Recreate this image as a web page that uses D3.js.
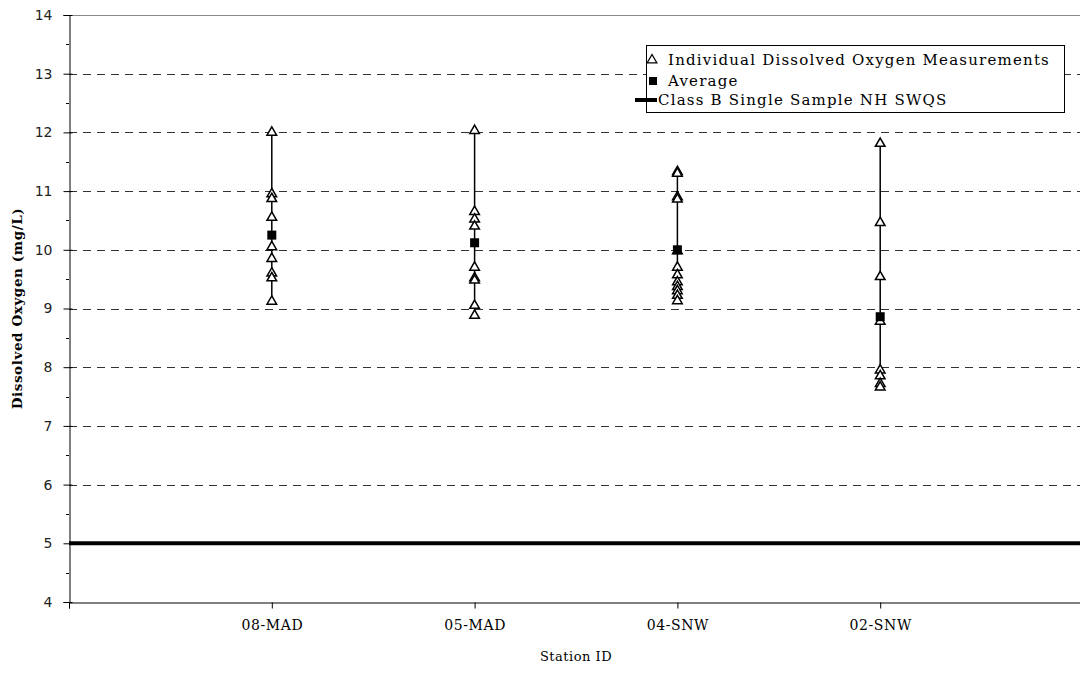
<!DOCTYPE html>
<html><head><meta charset="utf-8">
<script src="https://cdn.jsdelivr.net/npm/d3@7"></script>
<style>
body{margin:0;background:#fff;}
svg{display:block;}
text{font-family:"DejaVu Serif",serif;fill:#000;}
</style></head>
<body><svg id="c" width="1080" height="673"></svg>
<script>
const stations = ["08-MAD","05-MAD","04-SNW","02-SNW"];
const measurements = [
  [12.0, 10.95, 10.87, 10.55, 10.05, 9.85, 9.6, 9.52, 9.12],
  [12.03, 10.65, 10.52, 10.4, 9.7, 9.52, 9.48, 9.05, 8.88],
  [11.33, 11.3, 10.9, 10.86, 9.98, 9.7, 9.57, 9.45, 9.37, 9.3, 9.22, 9.13],
  [11.81, 10.46, 9.54, 8.78, 7.95, 7.85, 7.72, 7.66]
];
const averages = [10.25, 10.12, 10.0, 8.86];
const standard = 5;
const yTicks = [4,5,6,7,8,9,10,11,12,13,14];
const yMinor = [4.5,5.5,6.5,7.5,8.5,9.5,10.5,11.5,12.5,13.5];
const legendLabels = ["Individual Dissolved Oxygen Measurements","Average","Class B Single Sample NH SWQS"];

const svg = d3.select("#c");
const L = 69, R = 1083, T = 15, B = 602;
const x = d3.scaleLinear().domain([0, stations.length + 1]).range([L, R]);
const y = d3.scaleLinear().domain([4, 14]).range([B, T]);

// gridlines
svg.append("g").selectAll("line").data(yTicks.filter(d => d > 4 && d < 14)).join("line")
  .attr("x1", L).attr("x2", 1080).attr("y1", d => Math.round(y(d)) + 0.5).attr("y2", d => Math.round(y(d)) + 0.5)
  .attr("stroke", "#333").attr("stroke-width", 1).attr("stroke-dasharray", "8,6");
// top border
svg.append("line").attr("x1", L).attr("x2", 1080).attr("y1", Math.round(y(14)) + 0.5).attr("y2", Math.round(y(14)) + 0.5)
  .attr("stroke", "#888").attr("stroke-width", 1);

// y axis
const yAxis = d3.axisLeft(y).tickValues(yTicks).tickSize(6).tickPadding(11).tickFormat(d3.format("d"));
const gy = svg.append("g").attr("transform", `translate(${L + 0.5},0)`).call(yAxis);
gy.select(".domain").attr("stroke", "#000");
gy.selectAll(".tick line").attr("x2", -6).attr("x1", 3);
gy.selectAll(".tick text").style("font-family", "DejaVu Sans").style("font-size", "14px").style("fill", "#222");
svg.append("g").selectAll("line").data(yMinor).join("line")
  .attr("x1", L - 3).attr("x2", L).attr("y1", d => Math.round(y(d)) + 0.5).attr("y2", d => Math.round(y(d)) + 0.5)
  .attr("stroke", "#000");

// x axis
const xAxis = d3.axisBottom(x).tickValues(d3.range(0, stations.length + 1)).tickSize(6).tickPadding(12)
  .tickFormat(d => d >= 1 && d <= stations.length ? stations[d - 1] : "");
const gx = svg.append("g").attr("transform", `translate(0,${B + 0.5})`).call(xAxis);
gx.select(".domain").attr("stroke", "#000");
gx.selectAll(".tick text").style("font-family", "DejaVu Serif").style("font-size", "14px").style("letter-spacing", "0.6px");

// standard line
svg.append("line").attr("x1", L).attr("x2", 1080).attr("y1", y(standard)).attr("y2", y(standard))
  .attr("stroke", "#000").attr("stroke-width", 4);

// range lines
svg.append("g").selectAll("line").data(measurements).join("line")
  .attr("x1", (d, i) => x(i + 1)).attr("x2", (d, i) => x(i + 1))
  .attr("y1", d => y(d3.max(d))).attr("y2", d => y(d3.min(d)))
  .attr("stroke", "#000").attr("stroke-width", 1.5);

const tri = d3.symbol().type(d3.symbolTriangle).size(40);
const pts = measurements.flatMap((arr, i) => arr.map(v => ({i, v})));
svg.append("g").selectAll("path").data(pts).join("path")
  .attr("d", tri).attr("transform", d => `translate(${x(d.i + 1)},${y(d.v)})`)
  .attr("fill", "#fff").attr("stroke", "#000").attr("stroke-width", 1.5);

svg.append("g").selectAll("rect").data(averages).join("rect")
  .attr("x", (d, i) => x(i + 1) - 4.5).attr("y", d => y(d) - 4.5).attr("width", 9).attr("height", 9)
  .attr("fill", "#000");

// axis titles
svg.append("text").attr("x", 576).attr("y", 661).attr("text-anchor", "middle").style("font-size", "13px").style("letter-spacing", "0.5px").text("Station ID");
svg.append("text").attr("transform", `translate(22,${(T + B) / 2}) rotate(-90)`).attr("text-anchor", "middle")
  .style("font-size", "13.5px").style("font-weight", "bold").style("letter-spacing", "0.6px").text("Dissolved Oxygen (mg/L)");

// legend
const lg = svg.append("g");
lg.append("rect").attr("x", 646.5).attr("y", 45.5).attr("width", 418).attr("height", 67)
  .attr("fill", "#fff").attr("stroke", "#000").attr("stroke-width", 1);
const rowY = [60, 81, 100];
lg.append("path").attr("d", tri).attr("transform", `translate(652,${rowY[0]})`)
  .attr("fill", "#fff").attr("stroke", "#000").attr("stroke-width", 1.3);
lg.append("rect").attr("x", 649).attr("y", rowY[1] - 4).attr("width", 8).attr("height", 8).attr("fill", "#000");
lg.append("line").attr("x1", 635).attr("x2", 657).attr("y1", rowY[2]).attr("y2", rowY[2]).attr("stroke", "#000").attr("stroke-width", 4);
lg.selectAll("text").data(legendLabels).join("text")
  .attr("x", (d, i) => i === 2 ? 658 : 668).attr("y", (d, i) => rowY[i] + 5)
  .style("font-size", "15px").style("letter-spacing", "1.2px").text(d => d);
</script></body></html>
